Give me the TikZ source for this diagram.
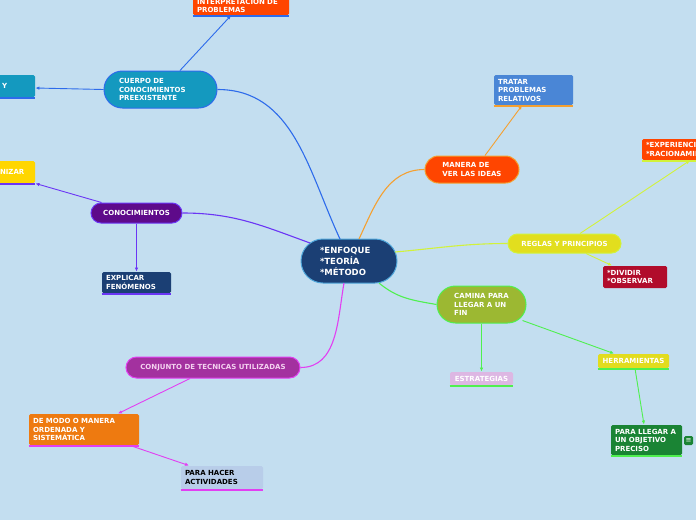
\documentclass[tikz,border=0pt]{standalone}
\usepackage{fontspec}
\setmainfont{DejaVu Sans}
\usetikzlibrary{arrows.meta}

\definecolor{bgblue}{HTML}{C3DEF0}
\definecolor{topicnavy}{HTML}{1B3F74}
\definecolor{topicedge}{HTML}{4FA6DA}
\definecolor{cuerpoteal}{HTML}{1499BF}
\definecolor{conocpurple}{HTML}{5E0A8A}
\definecolor{orangered}{HTML}{FF4500}
\definecolor{reglasyellow}{HTML}{E2DE1E}
\definecolor{caminaolive}{HTML}{9CB832}
\definecolor{conjmagenta}{HTML}{A3319F}
\definecolor{conjtext}{HTML}{F4D2F0}
\definecolor{nizaryellow}{HTML}{FFD600}
\definecolor{tratarblue}{HTML}{4A86D6}
\definecolor{dividirred}{HTML}{B10C2B}
\definecolor{estratlilac}{HTML}{DDB7E3}
\definecolor{herryellow}{HTML}{E2DC1E}
\definecolor{precisogreen}{HTML}{1A8434}
\definecolor{demodoorange}{HTML}{EE7A10}
\definecolor{hacerblue}{HTML}{B8CDE9}
\definecolor{lineblue}{HTML}{2D6BEB}
\definecolor{linepurple}{HTML}{6B35F5}
\definecolor{lineorange}{HTML}{F5A030}
\definecolor{lineyellow}{HTML}{D2F23A}
\definecolor{linegreen}{HTML}{4FF04F}
\definecolor{linemagenta}{HTML}{E23FF2}

\begin{document}
\begin{tikzpicture}[x=1pt, y=1pt, line width=0.9pt,
  pill/.style={draw, rounded corners=#1, line width=1pt, text=white,
    font=\fontsize{7}{8.5}\selectfont\bfseries, align=left, inner sep=0pt},
  box/.style={rounded corners=1.5pt, text=white,
    font=\fontsize{7}{8.5}\selectfont\bfseries, align=left, inner xsep=4pt, inner ysep=0pt},
  arr/.style={-{Latex[length=4pt,width=3.5pt]}}]

  % Background
  \useasboundingbox (0,0) rectangle (696,-520);
  \fill[bgblue] (0,0) rectangle (696,-520);

  % Central topic
  \node[pill=22pt, fill=topicnavy, draw=topicedge, font=\fontsize{8.5}{11}\selectfont\bfseries,
    text width=58pt, minimum width=96pt, minimum height=44pt] (central) at (349,-261)
    {*ENFOQUE\\{}*TEORÍA\\{}*MÉTODO};

  % Main topics
  \node[pill=18.5pt, fill=cuerpoteal, draw=lineblue, text width=83pt, minimum width=113pt,
    minimum height=37pt] (cuerpo) at (160.5,-89.5) {CUERPO DE\\CONOCIMIENTOS\\PREEXISTENTE};
  \node[pill=10pt, fill=conocpurple, draw=linepurple, minimum width=91pt, minimum height=20pt]
    (conoc) at (136.5,-213) {CONOCIMIENTOS};
  \node[pill=13.5pt, fill=orangered, draw=lineorange, minimum width=94pt, minimum height=27pt]
    (manera) at (472,-169.5) {MANERA DE\\VER LAS IDEAS};
  \node[pill=9.5pt, fill=reglasyellow, draw=lineyellow, minimum width=113pt, minimum height=19pt]
    (reglas) at (564.5,-243.5) {REGLAS Y PRINCIPIOS};
  \node[pill=18.5pt, fill=caminaolive, draw=linegreen, minimum width=89pt, minimum height=37pt]
    (camina) at (481.5,-304.5) {CAMINA PARA\\LLEGAR A UN\\FIN};
  \node[pill=10.5pt, fill=conjmagenta, draw=linemagenta, text=conjtext, minimum width=174pt,
    minimum height=21pt] (conjunto) at (213,-367.5) {CONJUNTO DE TECNICAS UTILIZADAS};

  % Subtopics
  \node[box, fill=orangered, text width=88pt, minimum height=19pt] (interp) at (241,-5.5) {INTERPRETACIÓN DE\\PROBLEMAS};
  \node[box, fill=cuerpoteal, text width=29pt, minimum height=22pt] (ynode) at (16.5,-86) {Y};
  \node[box, fill=nizaryellow, text width=31pt, minimum height=22pt] (nizar) at (15.5,-172) {NIZAR};
  \node[box, fill=topicnavy, text width=61pt, minimum height=21pt] (explicar) at (136.5,-282.5) {EXPLICAR\\FENÓMENOS};
  \node[box, fill=tratarblue, text width=71pt, minimum height=30pt] (tratar) at (533.5,-90) {TRATAR\\PROBLEMAS\\RELATIVOS};
  \node[box, fill=orangered, text width=80pt, minimum height=21pt] (exper) at (686,-149.5) {*EXPERIENCIA\\{}*RACIONAMIENTO};
  \node[box, fill=dividirred, text width=56pt, minimum height=22pt] (dividir) at (635,-277) {*DIVIDIR\\{}*OBSERVAR};
  \node[box, fill=estratlilac, align=center, text width=55pt, minimum height=13pt] (estrat) at (481.5,-378.5) {ESTRATEGIAS};
  \node[box, fill=herryellow, align=center, text width=63pt, minimum height=14pt] (herr) at (633.5,-361) {HERRAMIENTAS};
  \node[box, fill=precisogreen, text width=63pt, minimum height=30pt] (preciso) at (646.5,-440) {PARA LLEGAR A\\UN OBJETIVO\\PRECISO};
  \node[box, fill=precisogreen, inner xsep=0pt, minimum size=9pt, font=\fontsize{7}{7}\selectfont] (menu) at (688.5,-440.5) {≡};
  \node[box, fill=demodoorange, text width=102pt, minimum height=31pt] (demodo) at (84,-429.5) {DE MODO O MANERA\\ORDENADA Y\\SISTEMÁTICA};
  \node[box, fill=hacerblue, text=black, text width=74pt, minimum height=23pt] (hacer) at (222,-477.5) {PARA HACER\\ACTIVIDADES};

  % Underlines
  \foreach \n/\c in {interp/lineblue, ynode/lineblue, nizar/linepurple, explicar/linepurple,
      tratar/lineorange, exper/lineyellow, estrat/linegreen, herr/linegreen,
      preciso/linegreen, demodo/linemagenta, hacer/linemagenta}
    \draw[\c, line width=1.2pt] ([yshift=-0.6pt]\n.south west) -- ([yshift=-0.6pt]\n.south east);

  % Branches from the central topic
  \draw[lineblue, line width=1.1pt] ([xshift=-9pt,yshift=22pt]central.center) to[out=115, in=0] (cuerpo.east);
  \draw[linepurple, line width=1.1pt] ([xshift=-39pt,yshift=18pt]central.center) to[out=160, in=0] (conoc.east);
  \draw[lineorange, line width=1.1pt] ([xshift=10pt,yshift=22pt]central.center) to[out=65, in=180] (manera.west);
  \draw[lineyellow, line width=1.1pt] ([xshift=46pt,yshift=9pt]central.center) to[out=5, in=180] (reglas.west);
  \draw[linegreen, line width=1.1pt] ([xshift=30pt,yshift=-22pt]central.center) to[out=-40, in=170] (camina.west);
  \draw[linemagenta, line width=1.1pt] ([xshift=-5pt,yshift=-22pt]central.center) to[out=-100, in=0] (conjunto.east);

  % Sub branches
  \draw[arr, lineblue] ([xshift=19.5pt]cuerpo.north) -- ([xshift=-10pt]interp.south);
  \draw[arr, lineblue] (cuerpo.west) -- ([yshift=-2pt]ynode.east);
  \draw[arr, linepurple] ([xshift=-35pt]conoc.north) -- (nizar.south east);
  \draw[arr, linepurple] (conoc.south) -- (explicar.north);
  \draw[arr, lineorange] ([xshift=13pt]manera.north) -- ([xshift=-11.5pt]tratar.south);
  \draw[arr, lineyellow] ([xshift=15.5pt]reglas.north) -- ([xshift=4pt]exper.south);
  \draw[arr, lineyellow] ([xshift=21.5pt]reglas.south) -- ([xshift=-23pt]dividir.north);
  \draw[arr, linegreen] (camina.south) -- (estrat.north);
  \draw[arr, linegreen] ([xshift=-4pt,yshift=3pt]camina.south east) -- ([xshift=-19.5pt]herr.north);
  \draw[arr, linegreen] ([xshift=1.5pt]herr.south) -- ([xshift=-2.5pt]preciso.north);
  \draw[arr, linemagenta] ([xshift=-23pt]conjunto.south) -- ([xshift=34pt]demodo.north);
  \draw[arr, linemagenta] ([xshift=46pt]demodo.south) -- ([xshift=-33pt]hacer.north);
\end{tikzpicture}
\end{document}
